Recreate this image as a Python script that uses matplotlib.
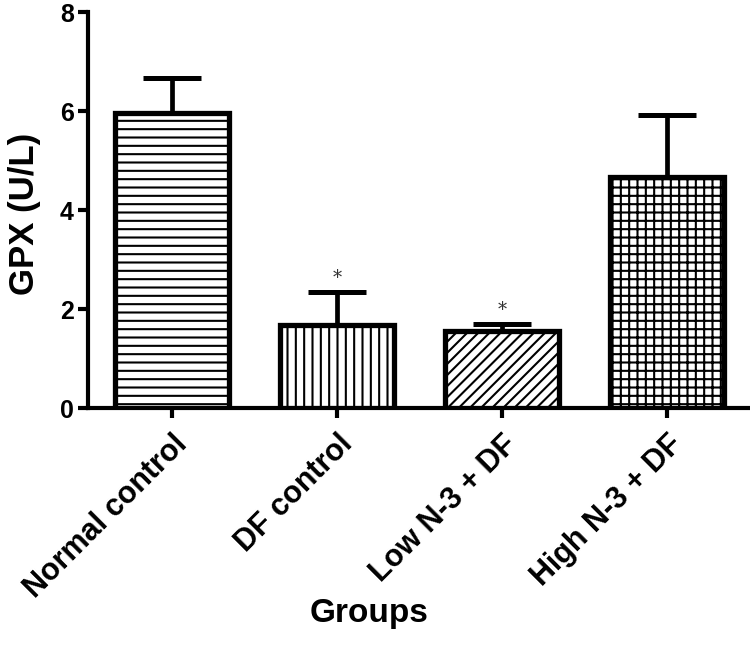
import numpy as np
import matplotlib
matplotlib.use("Agg")
import matplotlib.pyplot as plt

plt.rcParams['font.family'] = ['Liberation Sans', 'DejaVu Sans']
plt.rcParams['hatch.linewidth'] = 1.5
plt.rcParams['hatch.color'] = 'black'

groups = ["Normal control", "DF control", "Low N-3 + DF", "High N-3 + DF"]
means = [5.96, 1.68, 1.56, 4.67]
errors = [0.71, 0.66, 0.14, 1.25]
hatches = ['--', '||', '///', '++']
signif = ["", "*", "*", ""]

fig = plt.figure(figsize=(7.5, 6.46), dpi=100)
ax = fig.add_axes([0.117, 0.368, 0.883, 0.613])

x = np.arange(len(groups))
bars = ax.bar(x, means, width=0.69, color='white', edgecolor='black',
              linewidth=3.8, zorder=3)
for b, h in zip(bars, hatches):
    b.set_hatch(h)

ax.errorbar(x, means, yerr=[np.zeros(len(errors)), errors], fmt='none',
            ecolor='black', elinewidth=3.4, capsize=21, capthick=3.6, zorder=2)

for i in range(len(groups)):
    if signif[i]:
        ax.annotate(signif[i], (x[i], means[i] + errors[i]), xytext=(0, 4),
                    textcoords='offset points', ha='center', va='bottom',
                    fontsize=13, fontfamily='DejaVu Serif', color='#333333')

ax.set_xlim(-0.51, 3.5)
ax.set_ylim(0, 8)
ax.set_yticks([0, 2, 4, 6, 8])
ax.set_xticks(x)
ax.set_xticklabels(groups, rotation=45, ha='right', rotation_mode='anchor',
                   fontsize=22, fontweight='bold')
for lab in ax.get_yticklabels():
    lab.set_fontsize(18)
    lab.set_fontweight('bold')

ax.spines['top'].set_visible(False)
ax.spines['right'].set_visible(False)
ax.spines['left'].set_linewidth(3)
ax.spines['bottom'].set_linewidth(3)
ax.tick_params(axis='both', length=7, width=3, direction='out')
ax.tick_params(axis='y', pad=3)
ax.tick_params(axis='x', pad=8)

ax.set_ylabel("GPX (U/L)", fontsize=25, fontweight='bold')
ax.yaxis.set_label_coords(-0.07, 0.49)
fig.text(0.492, 0.051, "Groups", ha='center', va='center',
         fontsize=24, fontweight='bold')

fig.savefig("out.png", dpi=100)
